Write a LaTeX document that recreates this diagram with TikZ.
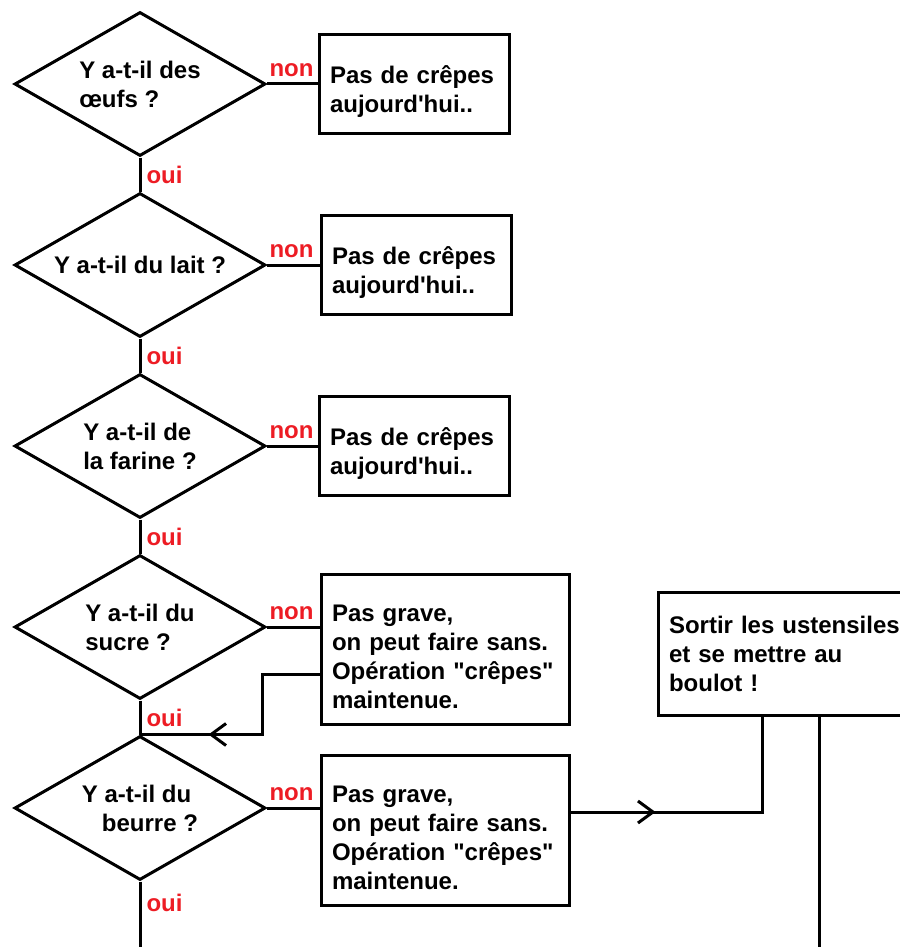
\documentclass[tikz,border=0pt]{standalone}
\usepackage{fontspec}
\setmainfont{Liberation Sans}
\usetikzlibrary{shapes,arrows.meta,positioning,decorations.markings}
\definecolor{paintred}{RGB}{237,28,36}
\tikzset{
  question/.style={diamond,draw,line width=3pt,aspect=1.74,minimum width=251pt,minimum height=144pt,inner sep=0pt,align=left},
  box/.style={rectangle,draw,line width=3pt,text width=168pt,inner xsep=11pt,minimum height=99pt,align=left},
  answer/.style={box,execute at begin node={\rule{0pt}{32pt}}},
  longanswer/.style={answer,text width=226pt,minimum height=150pt},
  lbl/.style={text=paintred,inner sep=2pt},
  nonlbl/.style={lbl,pos=0,above right,inner xsep=1pt,inner ysep=6pt},
  ouilbl/.style={lbl,right,inner sep=5pt},
  link/.style={line width=3pt},
  midarrow/.style={postaction={decorate},decoration={markings,mark=at position #1 with {\arrow{Straight Barb[length=15pt,width=22pt]}}}}
}

\begin{document}
\begin{tikzpicture}[node distance=181pt,font=\fontsize{24}{29}\selectfont\bfseries]
      \useasboundingbox (0pt,0pt) rectangle (899pt,-947pt);
      \node[question] (oeufs) at (140pt,-84pt) {Y a-t-il des\\œufs ?};
      \node[question] (lait) [below of=oeufs] {Y a-t-il du lait ?};
      \node[question] (farine) [below of=lait] {Y a-t-il de\\la farine ?};
      \node[question] (sucre) [below of=farine] {Y a-t-il du\\sucre ?};
      \node[question] (beurre) [below of=sucre] {Y a-t-il du\\\hspace*{20pt}beurre ?};
      \node[answer] (pas1) [right of=oeufs,node distance=274pt] {Pas de crêpes\\aujourd\textquotesingle hui..};
      \node[answer] (pas2) [right of=lait,node distance=276pt] {Pas de crêpes\\aujourd\textquotesingle hui..};
      \node[answer] (pas3) [right of=farine,node distance=274pt] {Pas de crêpes\\aujourd\textquotesingle hui..};
      \node[longanswer] (grave1) [right of=sucre,node distance=305pt,yshift=-22pt] {Pas grave,\\on peut faire sans.\\Opération \textquotedbl crêpes\textquotedbl\\maintenue.};
      \node[longanswer] (grave2) [right of=beurre,node distance=305pt,yshift=-22pt] {Pas grave,\\on peut faire sans.\\Opération \textquotedbl crêpes\textquotedbl\\maintenue.};
      \node[box,text width=240pt,minimum height=123pt] (ustensiles) [right of=grave1,node distance=344pt,yshift=-5pt] {Sortir les ustensiles\\et se mettre au\\boulot !};
      \coordinate (fin) at (140pt,-947pt);
      \coordinate (suite) at (819pt,-947pt);
      % non
      \draw[link] (oeufs.east) -- node[nonlbl] {non} (pas1.west);
      \draw[link] (lait.east) -- node[nonlbl] {non} (pas2.west);
      \draw[link] (farine.east) -- node[nonlbl] {non} (pas3.west);
      \draw[link] (sucre.east) -- node[nonlbl] {non} (sucre.east -| grave1.west);
      \draw[link] (beurre.east) -- node[nonlbl] {non} (beurre.east -| grave2.west);
      % oui
      \draw[link] (oeufs.south) -- node[ouilbl] {oui} (lait.north);
      \draw[link] (lait.south) -- node[ouilbl] {oui} (farine.north);
      \draw[link] (farine.south) -- node[ouilbl] {oui} (sucre.north);
      \draw[link] (sucre.south) -- node[ouilbl] {oui} (beurre.north);
      \draw[link] (beurre.south) -- node[ouilbl,pos=0.33] {oui} (fin);
      % retours
      \draw[link,midarrow=171pt] ([yshift=51pt]grave1.south west) -- ++(-57pt,0) |- (beurre.north);
      \draw[link,midarrow=85pt] ([yshift=18pt]grave2.east) -| ([xshift=106pt]ustensiles.south west);
      \draw[link] (ustensiles.south west -| suite) -- (suite);
    \end{tikzpicture}
\end{document}
